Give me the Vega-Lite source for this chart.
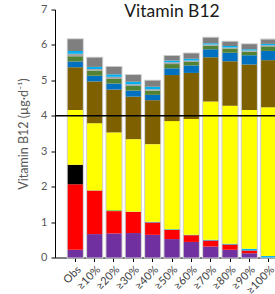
{
  "$schema": "https://vega.github.io/schema/vega-lite/v6.json",
  "width": 220,
  "height": 248,
  "autosize": "none",
  "padding": {"left": 55, "top": 9.5, "right": 0, "bottom": 36.5},
  "background": "white",
  "title": {"text": "Vitamin B12", "fontSize": 17.5, "font": "Lato", "fontWeight": "normal", "color": "#1a1a1a", "offset": -17, "anchor": "middle", "dx": 7},
  "data": {"values": [
    {"g": "Obs", "c": "A", "v": 0.22}, {"g": "Obs", "c": "B", "v": 1.85}, {"g": "Obs", "c": "C", "v": 0.55}, {"g": "Obs", "c": "F", "v": 1.54}, {"g": "Obs", "c": "G", "v": 1.21}, {"g": "Obs", "c": "H", "v": 0.16}, {"g": "Obs", "c": "I", "v": 0.15}, {"g": "Obs", "c": "J", "v": 0.07}, {"g": "Obs", "c": "K", "v": 0.08}, {"g": "Obs", "c": "L", "v": 0.33},
    {"g": "≥10%", "c": "A", "v": 0.66}, {"g": "≥10%", "c": "B", "v": 1.23}, {"g": "≥10%", "c": "D", "v": 0.01}, {"g": "≥10%", "c": "F", "v": 1.89}, {"g": "≥10%", "c": "G", "v": 1.18}, {"g": "≥10%", "c": "H", "v": 0.16}, {"g": "≥10%", "c": "I", "v": 0.14}, {"g": "≥10%", "c": "J", "v": 0.05}, {"g": "≥10%", "c": "K", "v": 0.06}, {"g": "≥10%", "c": "L", "v": 0.26},
    {"g": "≥20%", "c": "A", "v": 0.68}, {"g": "≥20%", "c": "B", "v": 0.63}, {"g": "≥20%", "c": "D", "v": 0.03}, {"g": "≥20%", "c": "F", "v": 2.19}, {"g": "≥20%", "c": "G", "v": 1.21}, {"g": "≥20%", "c": "H", "v": 0.17}, {"g": "≥20%", "c": "I", "v": 0.13}, {"g": "≥20%", "c": "J", "v": 0.06}, {"g": "≥20%", "c": "K", "v": 0.07}, {"g": "≥20%", "c": "L", "v": 0.21},
    {"g": "≥30%", "c": "A", "v": 0.69}, {"g": "≥30%", "c": "B", "v": 0.60}, {"g": "≥30%", "c": "D", "v": 0.01}, {"g": "≥30%", "c": "F", "v": 2.04}, {"g": "≥30%", "c": "G", "v": 1.20}, {"g": "≥30%", "c": "H", "v": 0.17}, {"g": "≥30%", "c": "I", "v": 0.13}, {"g": "≥30%", "c": "J", "v": 0.05}, {"g": "≥30%", "c": "K", "v": 0.07}, {"g": "≥30%", "c": "L", "v": 0.19},
    {"g": "≥40%", "c": "A", "v": 0.64}, {"g": "≥40%", "c": "B", "v": 0.35}, {"g": "≥40%", "c": "E", "v": 0.02}, {"g": "≥40%", "c": "F", "v": 2.19}, {"g": "≥40%", "c": "G", "v": 1.24}, {"g": "≥40%", "c": "H", "v": 0.15}, {"g": "≥40%", "c": "I", "v": 0.12}, {"g": "≥40%", "c": "J", "v": 0.04}, {"g": "≥40%", "c": "K", "v": 0.07}, {"g": "≥40%", "c": "L", "v": 0.17},
    {"g": "≥50%", "c": "A", "v": 0.52}, {"g": "≥50%", "c": "B", "v": 0.26}, {"g": "≥50%", "c": "E", "v": 0.02}, {"g": "≥50%", "c": "F", "v": 3.05}, {"g": "≥50%", "c": "G", "v": 1.30}, {"g": "≥50%", "c": "H", "v": 0.19}, {"g": "≥50%", "c": "I", "v": 0.12}, {"g": "≥50%", "c": "J", "v": 0.05}, {"g": "≥50%", "c": "K", "v": 0.05}, {"g": "≥50%", "c": "L", "v": 0.13},
    {"g": "≥60%", "c": "A", "v": 0.44}, {"g": "≥60%", "c": "B", "v": 0.19}, {"g": "≥60%", "c": "E", "v": 0.01}, {"g": "≥60%", "c": "F", "v": 3.27}, {"g": "≥60%", "c": "G", "v": 1.30}, {"g": "≥60%", "c": "H", "v": 0.21}, {"g": "≥60%", "c": "I", "v": 0.10}, {"g": "≥60%", "c": "J", "v": 0.04}, {"g": "≥60%", "c": "K", "v": 0.05}, {"g": "≥60%", "c": "L", "v": 0.15},
    {"g": "≥70%", "c": "A", "v": 0.31}, {"g": "≥70%", "c": "B", "v": 0.17}, {"g": "≥70%", "c": "E", "v": 0.02}, {"g": "≥70%", "c": "F", "v": 3.90}, {"g": "≥70%", "c": "G", "v": 1.25}, {"g": "≥70%", "c": "H", "v": 0.23}, {"g": "≥70%", "c": "I", "v": 0.10}, {"g": "≥70%", "c": "J", "v": 0.03}, {"g": "≥70%", "c": "K", "v": 0.04}, {"g": "≥70%", "c": "L", "v": 0.15},
    {"g": "≥80%", "c": "A", "v": 0.22}, {"g": "≥80%", "c": "B", "v": 0.15}, {"g": "≥80%", "c": "E", "v": 0.02}, {"g": "≥80%", "c": "F", "v": 3.89}, {"g": "≥80%", "c": "G", "v": 1.26}, {"g": "≥80%", "c": "H", "v": 0.24}, {"g": "≥80%", "c": "I", "v": 0.12}, {"g": "≥80%", "c": "J", "v": 0.03}, {"g": "≥80%", "c": "K", "v": 0.04}, {"g": "≥80%", "c": "L", "v": 0.12},
    {"g": "≥90%", "c": "A", "v": 0.12}, {"g": "≥90%", "c": "B", "v": 0.08}, {"g": "≥90%", "c": "E", "v": 0.05}, {"g": "≥90%", "c": "F", "v": 3.91}, {"g": "≥90%", "c": "G", "v": 1.29}, {"g": "≥90%", "c": "H", "v": 0.26}, {"g": "≥90%", "c": "I", "v": 0.10}, {"g": "≥90%", "c": "J", "v": 0.03}, {"g": "≥90%", "c": "K", "v": 0.04}, {"g": "≥90%", "c": "L", "v": 0.14},
    {"g": "≥100%", "c": "E", "v": 0.04}, {"g": "≥100%", "c": "F", "v": 4.20}, {"g": "≥100%", "c": "G", "v": 1.33}, {"g": "≥100%", "c": "H", "v": 0.26}, {"g": "≥100%", "c": "I", "v": 0.13}, {"g": "≥100%", "c": "J", "v": 0.03}, {"g": "≥100%", "c": "K", "v": 0.04}, {"g": "≥100%", "c": "L", "v": 0.12}
  ]},
  "layer": [
    {
      "mark": {"type": "bar", "fill": "white", "stroke": "#d0d0d0", "strokeWidth": 2},
      "encoding": {
        "x": {
          "field": "g", "type": "nominal", "sort": null,
          "scale": {"range": [0, 234], "paddingInner": 0.22, "paddingOuter": 0.66},
          "axis": {"title": null, "labelAngle": -45, "labelFontSize": 11, "labelPadding": 2, "labelColor": "#404040"}
        },
        "y": {
          "aggregate": "sum", "field": "v", "type": "quantitative",
          "scale": {"domain": [0, 7], "nice": false},
          "axis": {"title": "Vitamin B12 (µg·d⁻¹)", "tickCount": 8, "tickMinStep": 1, "labelOverlap": false, "titleFontSize": 12.5, "titlePadding": 10, "labelFontSize": 11, "labelPadding": 4}
        }
      }
    },
    {
      "mark": {"type": "bar"},
      "encoding": {
        "x": {"field": "g", "type": "nominal", "sort": null},
        "y": {"field": "v", "type": "quantitative", "stack": "zero"},
        "color": {
          "field": "c", "type": "nominal",
          "sort": ["A", "B", "C", "D", "E", "F", "G", "H", "I", "J", "K", "L"],
          "scale": {"domain": ["A", "B", "C", "D", "E", "F", "G", "H", "I", "J", "K", "L"],
                    "range": ["#7030A0", "#FF0000", "#000000", "#92D050", "#00B0F0", "#FFFF00", "#7F6000", "#0070C0", "#548235", "#A5A5A5", "#00B0F0", "#7F7F7F"]},
          "legend": null
        },
        "order": {"field": "c", "sort": "ascending"}
      }
    },
    {
      "data": {"values": [{"ref": 4}]},
      "mark": {"type": "rule", "color": "black", "strokeWidth": 1.6},
      "encoding": {"y": {"field": "ref", "type": "quantitative"}}
    }
  ],
  "config": {
    "view": {"stroke": null},
    "axis": {"domainColor": "black", "tickColor": "black", "tickSize": 4, "labelColor": "#595959", "titleColor": "#595959", "labelFont": "Lato", "titleFont": "Lato", "titleFontWeight": "normal", "grid": false}
  }
}
